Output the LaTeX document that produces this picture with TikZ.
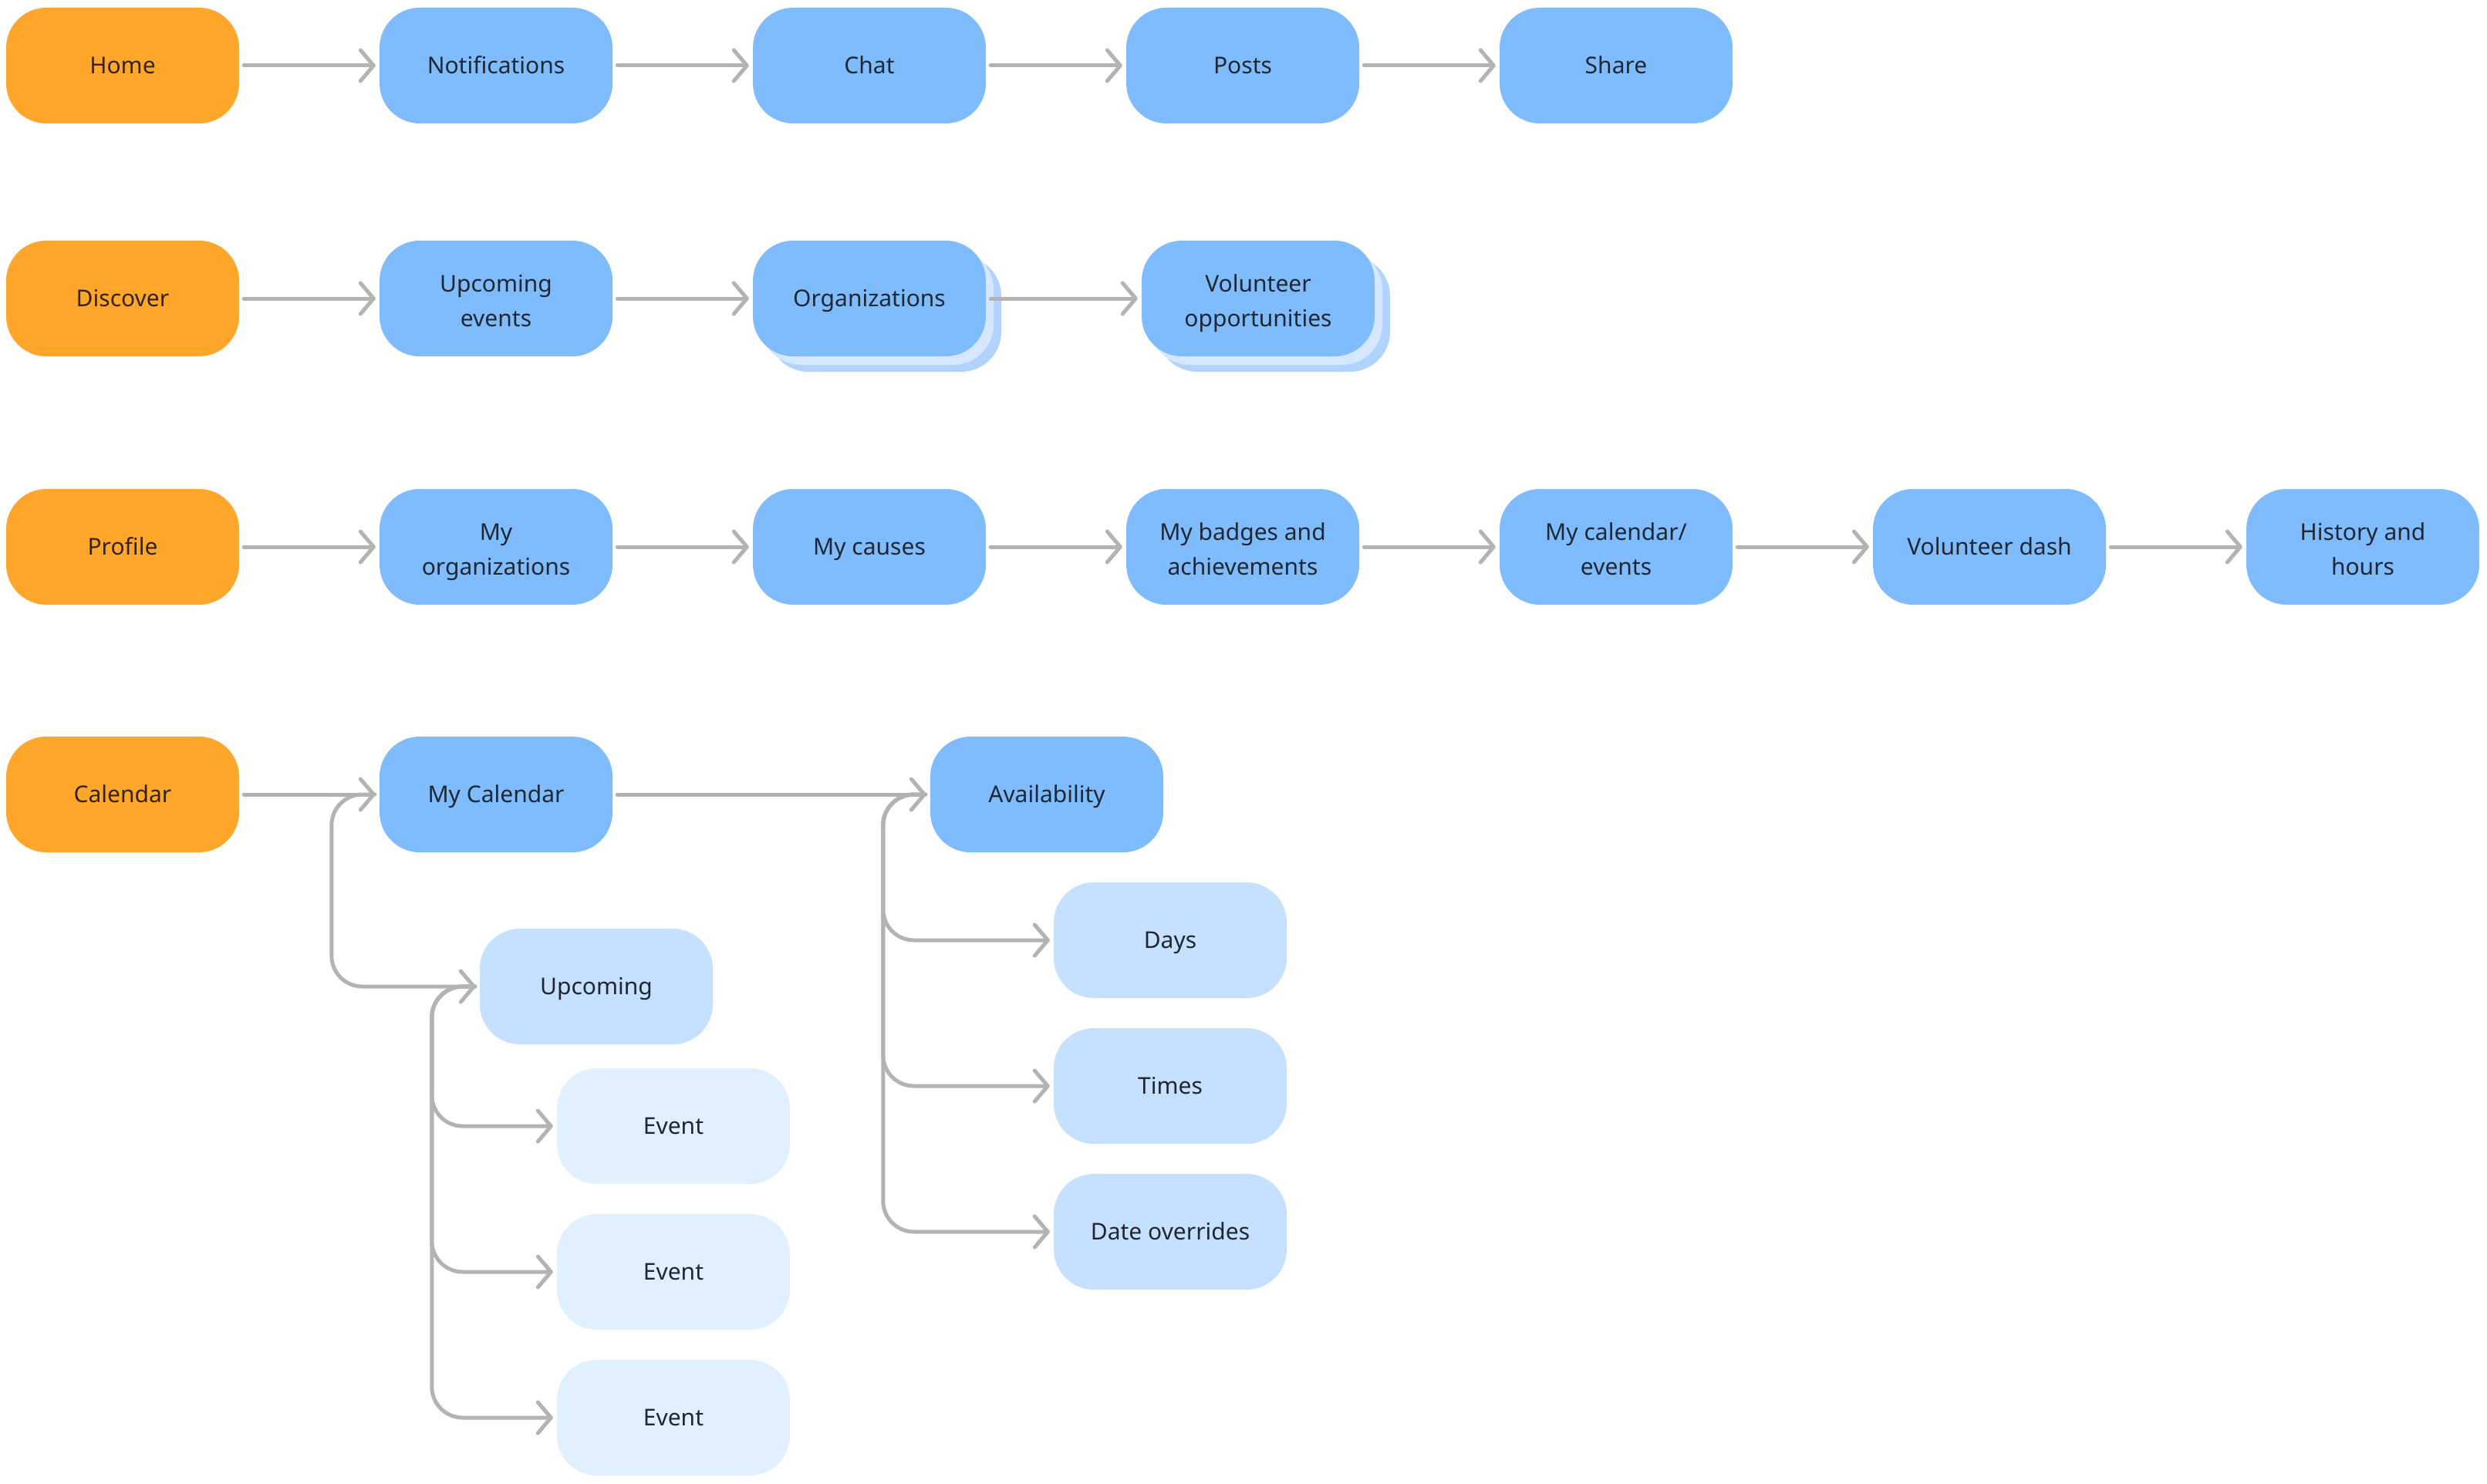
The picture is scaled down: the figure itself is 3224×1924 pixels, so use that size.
\documentclass[tikz,border=0pt]{standalone}
\usepackage{fontspec}
\setmainfont{Noto Sans}
\usetikzlibrary{arrows.meta}
\definecolor{orangebox}{HTML}{FFA62B}
\definecolor{bluebox}{HTML}{7FBCFE}
\definecolor{lightbox}{HTML}{C5E1FE}
\definecolor{palebox}{HTML}{E1F0FE}
\definecolor{stackmid}{HTML}{D5E8FF}
\definecolor{stackback}{HTML}{B0D4FF}
\definecolor{conncol}{HTML}{B3B3B3}
\definecolor{txtdark}{HTML}{1F2733}
\definecolor{txtbrown}{HTML}{33240E}
\tikzset{
  box/.style={rounded corners=52pt, minimum width=302pt, minimum height=150pt,
    inner sep=0pt, align=center, text=txtdark,
    font=\fontsize{30}{45}\selectfont, text height=28pt, text depth=6.6pt},
  twolines/.style={text height=72pt, text depth=0pt},
  rootbox/.style={box, fill=orangebox, text=txtbrown},
  mainbox/.style={box, fill=bluebox},
  subbox/.style={box, fill=lightbox},
  leafbox/.style={box, fill=palebox},
  midlayer/.style={box, fill=stackmid},
  backlayer/.style={box, fill=stackback},
  conn/.style={draw=conncol, line width=5pt, line cap=round, line join=round,
    -{Straight Barb[length=17pt,width=40pt,line cap=round,line join=round]},
    shorten <=6pt, shorten >=5pt},
  tree/.style={conn, rounded corners=40pt}
}
\begin{document}
\begin{tikzpicture}[x=1pt,y=-1pt]
\useasboundingbox[fill=white] (0,0) rectangle (3224,1924);
% Row 1
\node[rootbox] (home) at (159,85) {Home};
\node[mainbox] (notif) at (643,85) {Notifications};
\node[mainbox] (chat) at (1127,85) {Chat};
\node[mainbox] (posts) at (1611,85) {Posts};
\node[mainbox] (share) at (2095,85) {Share};
% Row 2
\node[rootbox] (discover) at (159,387) {Discover};
\node[mainbox, twolines] (upev) at (643,387) {Upcoming\\events};
\node[backlayer] (orgback) at (1147,407) {};
\node[midlayer] (orgmid) at (1137,398) {};
\node[mainbox] (orgs) at (1127,387) {Organizations};
\node[backlayer] (volback) at (1651,407) {};
\node[midlayer] (volmid) at (1641,398) {};
\node[mainbox, twolines] (vol) at (1631,387) {Volunteer\\opportunities};
% Row 3
\node[rootbox] (profile) at (159,709) {Profile};
\node[mainbox, twolines] (myorgs) at (643,709) {My\\organizations};
\node[mainbox] (causes) at (1127,709) {My causes};
\node[mainbox, twolines] (badges) at (1611,709) {My badges and\\achievements};
\node[mainbox, twolines] (mycalev) at (2095,709) {My calendar/\\events};
\node[mainbox] (voldash) at (2579,709) {Volunteer dash};
\node[mainbox, twolines] (history) at (3063,709) {History and\\hours};
% Row 4
\node[rootbox] (calendar) at (159,1030) {Calendar};
\node[mainbox] (mycal) at (643,1030) {My Calendar};
\node[mainbox] (avail) at (1357,1030) {Availability};
\node[subbox] (upcoming) at (773,1279) {Upcoming};
\node[leafbox] (ev1) at (873,1460) {Event};
\node[leafbox] (ev2) at (873,1649) {Event};
\node[leafbox] (ev3) at (873,1838) {Event};
\node[subbox] (days) at (1517,1219) {Days};
\node[subbox] (times) at (1517,1408) {Times};
\node[subbox] (dateov) at (1517,1597) {Date overrides};
% Connectors row 1
\draw[conn] (home) -- (notif);
\draw[conn] (notif) -- (chat);
\draw[conn] (chat) -- (posts);
\draw[conn] (posts) -- (share);
% Row 2
\draw[conn] (discover) -- (upev);
\draw[conn] (upev) -- (orgs);
\draw[conn] (orgs.east) -- (vol.west);
% Row 3
\draw[conn] (profile) -- (myorgs);
\draw[conn] (myorgs) -- (causes);
\draw[conn] (causes) -- (badges);
\draw[conn] (badges) -- (mycalev);
\draw[conn] (mycalev) -- (voldash);
\draw[conn] (voldash) -- (history);
% Row 4
\draw[conn] (calendar) -- (mycal);
\draw[conn] (mycal) -- (avail);
\draw[tree] (mycal.west) -- ++(-62,0) |- (upcoming.west);
\draw[tree] (upcoming.west) -- ++(-62,0) |- (ev1.west);
\draw[tree] (upcoming.west) -- ++(-62,0) |- (ev2.west);
\draw[tree] (upcoming.west) -- ++(-62,0) |- (ev3.west);
\draw[tree] (avail.west) -- ++(-61,0) |- (days.west);
\draw[tree] (avail.west) -- ++(-61,0) |- (times.west);
\draw[tree] (avail.west) -- ++(-61,0) |- (dateov.west);
\end{tikzpicture}
\end{document}
